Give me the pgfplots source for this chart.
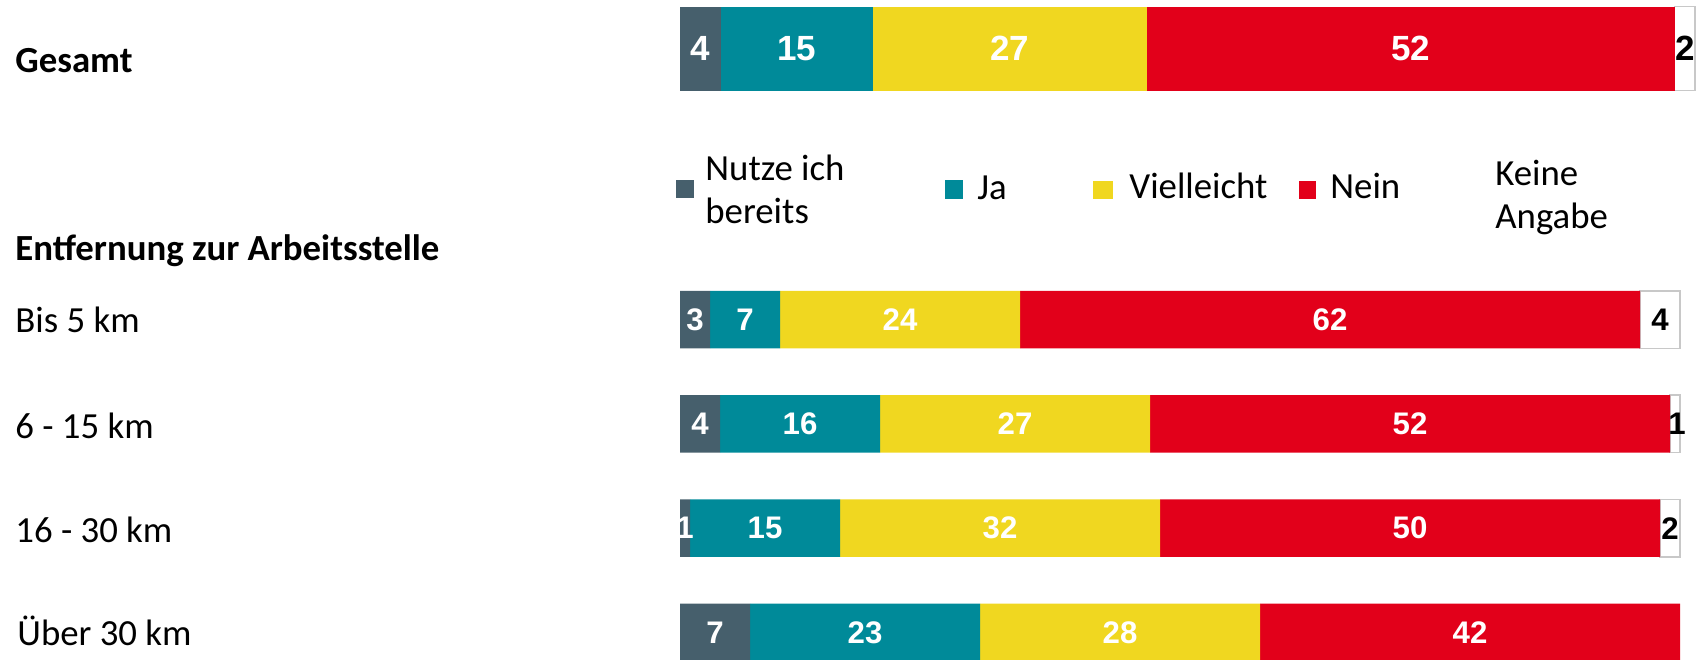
\documentclass[border=0pt]{standalone}
\usepackage{fontspec}
\setmainfont{Carlito}
\newfontfamily\numfont{Liberation Sans}
\usepackage{pgfplots}
\pgfplotsset{compat=1.18}

\definecolor{cNutze}{HTML}{465F6C}
\definecolor{cJa}{HTML}{008A99}
\definecolor{cViel}{HTML}{F0D720}
\definecolor{cNein}{HTML}{E2001A}
\definecolor{cRand}{HTML}{C8C8C8}

\pgfplotsset{
  rahmen/.style={scale only axis, hide axis, clip=false,
    xmin=0, xmax=100, y dir=reverse},
  balken/.style={rahmen, xbar stacked},
  zahlen/.style={rahmen,
    point meta=explicit symbolic,
    every node near coord/.append style={anchor=center, inner sep=0pt}},
}
% Beschriftung mitten im Segment
\pgfplotsset{wert/.style={draw=none, mark=none, nodes near coords,
  every node near coord/.append style={text=#1}}}
\tikzset{lab/.style={anchor=base west, inner sep=0pt, font=\fontsize{18.4}{22}\selectfont}}

\begin{document}
\begin{tikzpicture}
% Gesamt
\begin{axis}[balken, at={(340pt,-24.35pt)}, anchor=west,
  width=507.5pt, height=52pt, ymin=0.5, ymax=1.5, bar width=42pt]
\addplot[fill=cNutze, draw=none] coordinates {(4,1)};
\addplot[fill=cJa, draw=none] coordinates {(15,1)};
\addplot[fill=cViel, draw=none] coordinates {(27,1)};
\addplot[fill=cNein, draw=none] coordinates {(52,1)};
\addplot[fill=white, draw=cRand, line width=0.75pt] coordinates {(2,1)};
\end{axis}
\begin{axis}[zahlen, at={(340pt,-24.35pt)}, anchor=west,
  width=507.5pt, height=52pt, ymin=0.5, ymax=1.5,
  every node near coord/.append style={font=\numfont\bfseries\fontsize{17.5}{20}\selectfont}]
\addplot[wert=white] coordinates {(2,1) [4] (11.5,1) [15] (32.5,1) [27] (72,1) [52]};
\addplot[wert=black] coordinates {(99,1) [2]};
\end{axis}

% Entfernung zur Arbeitsstelle
\begin{axis}[balken, at={(340pt,-133.675pt)}, anchor=north west,
  width=500pt, height=208.6pt, ymin=0.5, ymax=4.5, bar width=28.75pt]
\addplot[fill=cNutze, draw=none] coordinates {(3,1) (4,2) (1,3) (7,4)};
\addplot[fill=cJa, draw=none] coordinates {(7,1) (16,2) (15,3) (23,4)};
\addplot[fill=cViel, draw=none] coordinates {(24,1) (27,2) (32,3) (28,4)};
\addplot[fill=cNein, draw=none] coordinates {(62,1) (52,2) (50,3) (42,4)};
\addplot[fill=white, draw=cRand, line width=0.75pt]
  coordinates {(4,1) (1,2) (2,3) (0,4)};
\end{axis}
\begin{axis}[zahlen, at={(340pt,-133.675pt)}, anchor=north west,
  width=500pt, height=208.6pt, ymin=0.5, ymax=4.5,
  every node near coord/.append style={font=\numfont\bfseries\fontsize{15.6}{18}\selectfont}]
\addplot[wert=white] coordinates {
  (1.5,1) [3] (6.5,1) [7] (22,1) [24] (65,1) [62]
  (2,2) [4] (12,2) [16] (33.5,2) [27] (73,2) [52]
  (0.5,3) [1] (8.5,3) [15] (32,3) [32] (73,3) [50]
  (3.5,4) [7] (18.5,4) [23] (44,4) [28] (79,4) [42]};
\addplot[wert=black] coordinates {(98,1) [4] (99.7,2) [1] (99,3) [2]};
\end{axis}

\begin{scope}[x=0.5pt, y=-0.5pt]
% Zeilenbeschriftungen
\node[lab, font=\bfseries\fontsize{18.4}{22}\selectfont] at (15,72.5) {Gesamt};
\node[lab, font=\bfseries\fontsize{18.4}{22}\selectfont] at (15,260) {Entfernung zur Arbeitsstelle};
\node[lab] at (15,332.7) {Bis 5 km};
\node[lab] at (15,438) {6 - 15 km};
\node[lab] at (15,542.3) {16 - 30 km};
\node[lab] at (17,645) {Über 30 km};
% Legende
\fill[cNutze] (676,179.5) rectangle (694,197.5);
\fill[cJa] (945,180) rectangle (963,198.5);
\fill[cViel] (1093,180.7) rectangle (1113,199.3);
\fill[cNein] (1299,181) rectangle (1316,199);
\node[lab] at (705,180) {Nutze ich};
\node[lab] at (705,223.3) {bereits};
\node[lab] at (977,199.3) {Ja};
\node[lab] at (1129,198.3) {Vielleicht};
\node[lab] at (1330,198.3) {Nein};
\node[lab] at (1495,185) {Keine};
\node[lab] at (1495,228.3) {Angabe};
\end{scope}

\pgfresetboundingbox
\useasboundingbox (0pt,0pt) rectangle (853.5pt,-329.5pt);
\end{tikzpicture}
\end{document}
